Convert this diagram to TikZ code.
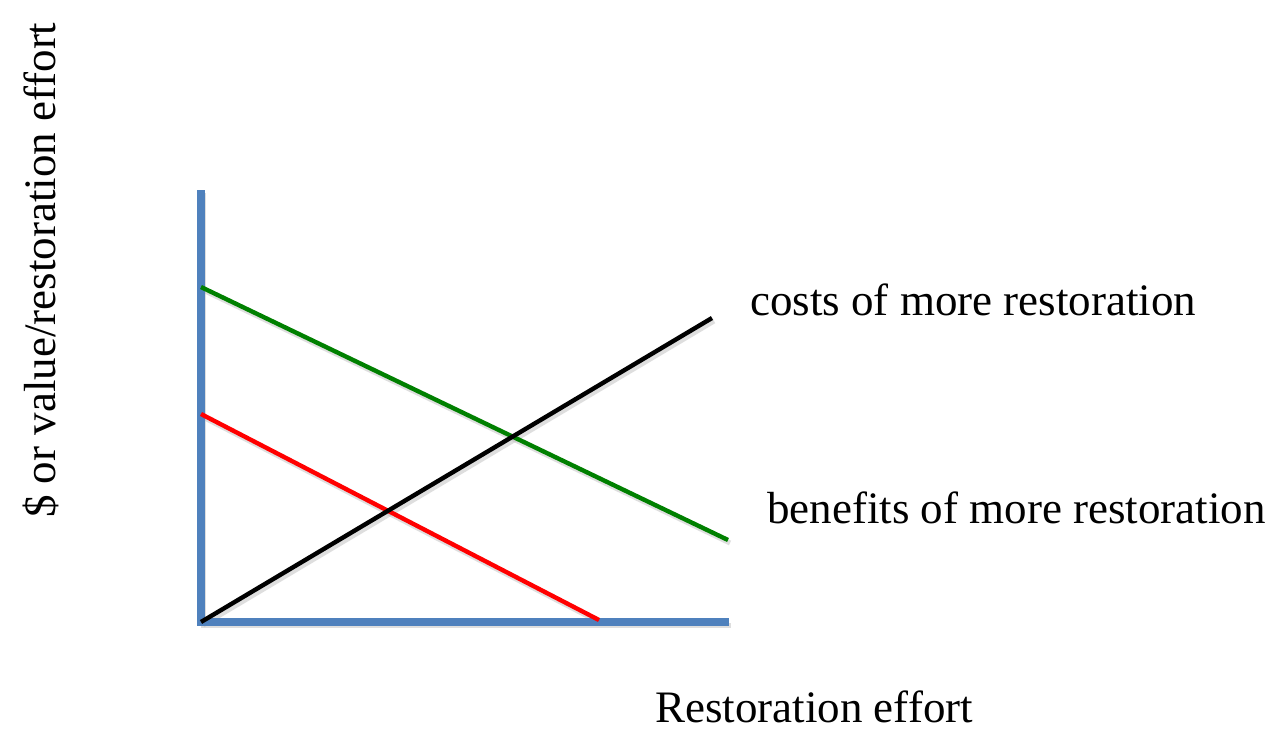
\documentclass[tikz,border=0pt]{standalone}
\usepackage{fontspec}
\setmainfont{Liberation Serif}
\definecolor{axisblue}{HTML}{4F81BD}
\definecolor{bengreen}{HTML}{008000}
\definecolor{redline}{HTML}{FF0000}
\begin{document}
\begin{tikzpicture}[x=1pt,y=-1pt,
  lbl/.style={font=\fontsize{45}{50}\selectfont, inner sep=0pt, text=black},
  axisline/.style={draw=axisblue, line width=8pt},
  curve/.style={line width=4.4pt},
  shade/.style={draw=black!25, line width=5pt, opacity=0.5}]
\useasboundingbox (0,0) rectangle (1278,734);
\fill[white] (0,0) rectangle (1278,734);
% coordinates
\coordinate (top) at (201,190);
\coordinate (origin) at (201,622);
\coordinate (xend) at (729,622);
\coordinate (gstart) at (201,287);
\coordinate (gend) at (728,540);
\coordinate (rstart) at (201,414);
\coordinate (rend) at (599,620);
\coordinate (kend) at (712,318);
% shadows
\draw[shade] ([shift={(2,3)}]top) -- ([shift={(2,3)}]origin) -- ([shift={(2,3)}]xend);
\draw[shade] ([shift={(2,3)}]gstart) -- ([shift={(2,3)}]gend);
\draw[shade] ([shift={(2,3)}]rstart) -- ([shift={(2,3)}]rend);
\draw[shade] ([shift={(2,3)}]origin) -- ([shift={(2,3)}]kend);
% axes
\draw[axisline] (top) -- (origin) -- (xend);
% lines
\draw[curve, bengreen] (gstart) -- (gend);
\draw[curve, redline] (rstart) -- (rend);
\draw[curve, black] (origin) -- (kend);
% labels
\node[lbl, anchor=base west] (costs) at (750,315) {costs of more restoration};
\node[lbl, anchor=base west] (benefits) at (767,523) {benefits of more restoration};
\node[lbl, anchor=base west] (xlabel) at (655,722) {Restoration effort};
\node[lbl, anchor=base west, rotate=90] (ylabel) at (55,518) {\$ or value/restoration effort};
\end{tikzpicture}
\end{document}
